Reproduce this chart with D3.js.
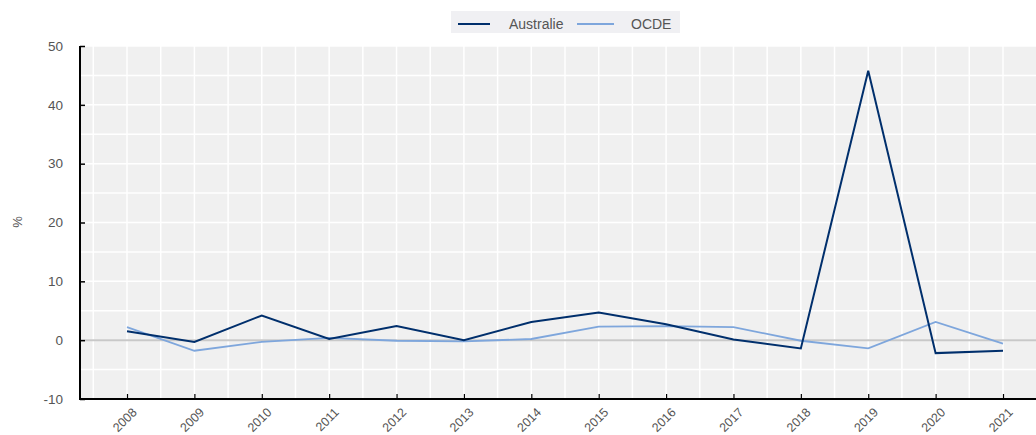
<!DOCTYPE html>
<html>
<head>
<meta charset="utf-8">
<script src="https://cdn.jsdelivr.net/npm/d3@7"></script>
<style>
  body { margin: 0; background: #fff; }
  text { font-family: "Liberation Sans", Arial, sans-serif; }
</style>
</head>
<body>
<svg id="chart" width="1036" height="435"></svg>
<script>
var years = [2008, 2009, 2010, 2011, 2012, 2013, 2014, 2015, 2016, 2017, 2018, 2019, 2020, 2021];
var australie = [1.5, -0.3, 4.2, 0.2, 2.4, 0.0, 3.1, 4.7, 2.7, 0.1, -1.4, 45.8, -2.2, -1.8];
var ocde = [2.2, -1.8, -0.3, 0.4, -0.1, -0.2, 0.2, 2.3, 2.4, 2.2, -0.1, -1.4, 3.1, -0.6];
var yTicks = [-10, 0, 10, 20, 30, 40, 50];
var seriesNames = ["Australie", "OCDE"];
var seriesColors = ["#002f6c", "#7ea6dc"];

var svg = d3.select("#chart");
var pLeft = 80, pRight = 1036, pTop = 46, pBottom = 399;

var x = d3.scaleLinear().domain([2008, 2021]).range([127, 1003]);
var y = d3.scaleLinear().domain([-10, 50]).range([pBottom, pTop]);

// plot background
svg.append("rect")
    .attr("x", pLeft).attr("y", pTop)
    .attr("width", pRight - pLeft).attr("height", pBottom - pTop)
    .attr("fill", "#f0f0f0");

// grid
var g = svg.append("g");
var vgrid = d3.range(2007.5, 2021.6, 0.5);
g.selectAll(".vg").data(vgrid).enter().append("line")
    .attr("x1", d => x(d)).attr("x2", d => x(d))
    .attr("y1", pTop).attr("y2", pBottom)
    .style("stroke", "#ffffff").style("stroke-width", 1.5);
g.selectAll(".hg").data(d3.range(-10, 50.1, 5)).enter().append("line")
    .attr("x1", pLeft).attr("x2", pRight)
    .attr("y1", d => y(d)).attr("y2", d => y(d))
    .style("stroke", "#ffffff").style("stroke-width", 1.5);

// zero line
svg.append("line")
    .attr("x1", pLeft).attr("x2", pRight)
    .attr("y1", y(0)).attr("y2", y(0))
    .style("stroke", "#c8c8c8").style("stroke-width", 2);

// y axis
var yAxis = svg.append("g")
    .attr("transform", "translate(" + pLeft + ",0)")
    .call(d3.axisRight(y).tickValues(yTicks).tickSize(5).tickFormat(d => String(d)));
yAxis.select(".domain").remove();
yAxis.selectAll(".tick line").style("stroke", "#000").style("stroke-width", 1.5);
yAxis.selectAll(".tick text")
    .attr("x", -17).attr("text-anchor", "end")
    .style("font-size", "13.5px").style("fill", "#555");
svg.append("line")
    .attr("x1", pLeft).attr("x2", pLeft)
    .attr("y1", pTop).attr("y2", pBottom + 1)
    .style("stroke", "#000").style("stroke-width", 2);

// x axis
var xAxis = svg.append("g")
    .attr("transform", "translate(0," + pBottom + ")")
    .call(d3.axisTop(x).tickValues(years).tickSize(5).tickFormat(d => String(d)));
xAxis.select(".domain").remove();
xAxis.selectAll(".tick line").style("stroke", "#000").style("stroke-width", 1.2);
xAxis.selectAll(".tick text")
    .attr("y", 0).attr("dy", "0.35em")
    .attr("text-anchor", "end")
    .attr("transform", "translate(7,11) rotate(-45)")
    .style("font-size", "12.5px").style("fill", "#555");
svg.append("line")
    .attr("x1", pLeft - 1).attr("x2", pRight)
    .attr("y1", pBottom).attr("y2", pBottom)
    .style("stroke", "#000").style("stroke-width", 2);

// y label
svg.append("text")
    .attr("transform", "translate(22,222) rotate(-90)")
    .attr("text-anchor", "middle")
    .style("font-size", "13px").style("fill", "#555")
    .text("%");

// lines
var line = d3.line().x((d, i) => x(years[i])).y(d => y(d));
svg.append("path").datum(ocde)
    .attr("d", line).attr("fill", "none")
    .style("stroke", seriesColors[1]).style("stroke-width", 1.8);
svg.append("path").datum(australie)
    .attr("d", line).attr("fill", "none")
    .style("stroke", seriesColors[0]).style("stroke-width", 2);

// legend
var lg = svg.append("g");
lg.append("rect")
    .attr("x", 451).attr("y", 11).attr("width", 229).attr("height", 22)
    .attr("fill", "#f0f0f3");
var legendX = [[458, 490, 509], [577, 614, 631]];
seriesNames.forEach(function (n, i) {
    lg.append("line")
        .attr("x1", legendX[i][0]).attr("x2", legendX[i][1])
        .attr("y1", 24).attr("y2", 24)
        .style("stroke", seriesColors[i]).style("stroke-width", 2);
    lg.append("text")
        .attr("x", legendX[i][2]).attr("y", 29)
        .style("font-size", "14px").style("fill", "#555")
        .text(n);
});
</script>
</body>
</html>
